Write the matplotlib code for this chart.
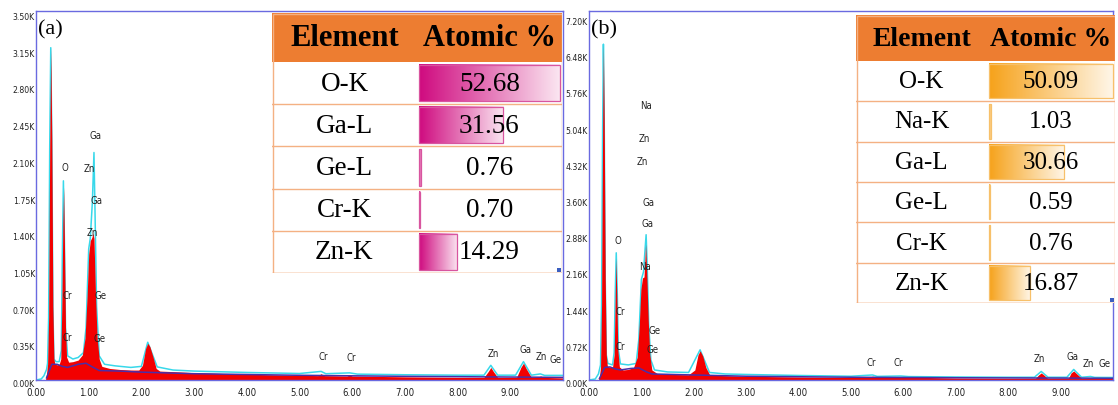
import matplotlib
matplotlib.use('Agg')
import matplotlib.pyplot as plt
import numpy as np
from matplotlib.colors import LinearSegmentedColormap
from matplotlib.patches import Rectangle
import matplotlib.transforms as mtrans
from matplotlib import font_manager

# ---------------- DATA ----------------
# Panel (a) spectrum (energy keV, counts)
a_red_E = [0.18, 0.20, 0.22, 0.24, 0.26, 0.28, 0.30, 0.32, 0.34, 0.36, 0.40, 0.44, 0.47, 0.49, 0.51, 0.525,
           0.54, 0.56, 0.58, 0.62, 0.70, 0.80, 0.88, 0.93, 0.97, 1.00, 1.03, 1.06, 1.08, 1.10, 1.13, 1.16,
           1.20, 1.25, 1.40, 1.60, 1.80, 1.95, 2.02, 2.08, 2.12, 2.16, 2.22, 2.28, 2.35, 2.60, 3.00, 4.00,
           5.00, 5.35, 5.41, 5.47, 5.90, 5.95, 6.00, 7.00, 8.00, 8.50, 8.58, 8.63, 8.68, 8.76, 9.12, 9.20,
           9.25, 9.30, 9.40, 9.55, 9.57, 9.62, 10.0]
a_red_C = [0, 60, 150, 600, 2200, 3170, 2300, 700, 200, 150, 145, 150, 200, 700, 1500, 1840,
           1300, 500, 220, 170, 175, 190, 240, 400, 800, 1200, 1330, 1360, 1400, 1350, 800, 400,
           200, 130, 110, 100, 95, 95, 140, 300, 350, 320, 220, 110, 85, 80, 70, 55,
           45, 42, 60, 42, 38, 48, 38, 30, 25, 25, 80, 120, 80, 25, 25, 120,
           160, 110, 25, 25, 40, 25, 20]
a_cyan_E = [0.00, 0.10, 0.15, 0.20, 0.22, 0.24, 0.26, 0.28, 0.30, 0.32, 0.34, 0.38, 0.44, 0.48, 0.50, 0.52,
            0.54, 0.56, 0.60, 0.70, 0.80, 0.90, 0.95, 1.00, 1.03, 1.07, 1.10, 1.12, 1.15, 1.20, 1.30, 1.50,
            1.80, 2.00, 2.12, 2.30, 2.60, 3.00, 4.00, 5.00, 5.41, 5.50, 5.95, 6.10, 7.00, 8.00, 8.50, 8.63,
            8.76, 9.10, 9.25, 9.40, 9.57, 9.65, 9.80, 10.0]
a_cyan_C = [0, 10, 40, 100, 160, 600, 2200, 3170, 2300, 700, 200, 175, 175, 280, 1200, 1900,
            1300, 500, 230, 200, 215, 260, 500, 1250, 1350, 1700, 2170, 1600, 700, 230, 150, 135,
            120, 130, 360, 125, 95, 85, 72, 62, 82, 60, 68, 56, 50, 46, 46, 140,
            46, 46, 175, 46, 58, 44, 44, 44]
a_bg_E = [0.20, 0.30, 0.40, 0.50, 0.60, 0.80, 0.95, 1.05, 1.20, 1.60, 2.00, 3.00, 5.00, 7.00, 10.0]
a_bg_C = [20, 150, 150, 130, 120, 150, 160, 130, 90, 85, 75, 60, 45, 35, 25]

# Panel (b) spectrum
b_red_E = [0.18, 0.20, 0.22, 0.24, 0.26, 0.275, 0.29, 0.31, 0.33, 0.35, 0.40, 0.45, 0.48, 0.50, 0.515, 0.53,
           0.55, 0.58, 0.65, 0.75, 0.85, 0.92, 0.96, 0.99, 1.02, 1.05, 1.08, 1.10, 1.13, 1.16, 1.20, 1.30,
           1.60, 1.90, 2.02, 2.08, 2.12, 2.17, 2.23, 2.30, 2.50, 3.00, 4.00, 5.00, 5.38, 5.41, 5.45, 5.95,
           7.00, 8.00, 8.52, 8.58, 8.63, 8.68, 8.75, 9.15, 9.20, 9.25, 9.30, 9.40, 9.57, 10.0]
b_red_C = [0, 80, 250, 1500, 5000, 6680, 5200, 2000, 500, 280, 250, 260, 500, 1600, 2430, 1700,
           600, 260, 200, 210, 250, 450, 1100, 1800, 2030, 2050, 2700, 2200, 1200, 500, 200, 130,
           110, 105, 200, 500, 580, 480, 250, 110, 90, 75, 60, 50, 50, 80, 50, 60,
           40, 35, 35, 100, 140, 100, 35, 35, 140, 180, 130, 35, 45, 30]
b_cyan_E = [0.00, 0.12, 0.18, 0.22, 0.24, 0.26, 0.275, 0.29, 0.31, 0.33, 0.36, 0.45, 0.48, 0.50, 0.52, 0.54,
            0.56, 0.60, 0.75, 0.90, 0.95, 1.00, 1.04, 1.07, 1.09, 1.11, 1.14, 1.18, 1.25, 1.50, 1.90, 2.12,
            2.30, 2.60, 3.00, 4.00, 5.00, 5.41, 5.50, 5.95, 6.10, 7.00, 8.00, 8.50, 8.63, 8.76, 9.12, 9.25,
            9.40, 9.57, 9.65, 10.0]
b_cyan_C = [0, 20, 120, 300, 1500, 5000, 6680, 5200, 2000, 500, 330, 300, 550, 1700, 2530, 1700,
            600, 320, 300, 330, 800, 2000, 2150, 2600, 2890, 2300, 1100, 400, 200, 160, 150, 600,
            150, 120, 110, 90, 75, 100, 72, 80, 68, 60, 55, 55, 170, 55, 55, 210,
            55, 70, 52, 50]
b_bg_E = [0.20, 0.30, 0.40, 0.50, 0.60, 0.80, 0.95, 1.10, 1.20, 1.60, 2.00, 3.00, 5.00, 7.00, 10.0]
b_bg_C = [30, 250, 260, 220, 200, 230, 240, 160, 120, 110, 100, 75, 55, 45, 35]

# Peak labels (text, energy, counts)
a_lab_txt = ['Ga', 'O', 'Zn', 'Ga', 'Zn', 'Cr', 'Ge', 'Cr', 'Ge', 'Cr', 'Cr', 'Zn', 'Ga', 'Zn', 'Ge']
a_lab_E = [1.12, 0.55, 1.02, 1.15, 1.06, 0.60, 1.23, 0.60, 1.21, 5.45, 5.98, 8.67, 9.28, 9.58, 9.85]
a_lab_C = [2325, 2020, 2010, 1706, 1400, 800, 800, 400, 390, 220, 210, 250, 286, 220, 190]
b_lab_txt = ['Na', 'Zn', 'Zn', 'Ga', 'Ga', 'O', 'Na', 'Cr', 'Ge', 'Cr', 'Ge', 'Cr', 'Cr', 'Zn', 'Ga', 'Zn', 'Ge']
b_lab_E = [1.08, 1.06, 1.02, 1.13, 1.11, 0.55, 1.06, 0.60, 1.25, 0.60, 1.21, 5.38, 5.90, 8.60, 9.23, 9.53, 9.83]
b_lab_C = [5444, 4786, 4327, 3529, 3110, 2772, 2253, 1356, 977, 658, 598, 339, 339, 419, 459, 319, 319]

# Axis ticks
x_ticks = [0, 1, 2, 3, 4, 5, 6, 7, 8, 9]
x_tick_labels = ['0.00', '1.00', '2.00', '3.00', '4.00', '5.00', '6.00', '7.00', '8.00', '9.00']
a_y_ticks = [0, 350, 700, 1050, 1400, 1750, 2100, 2450, 2800, 3150, 3500]
a_y_tick_labels = ['0.00K', '0.35K', '0.70K', '1.05K', '1.40K', '1.75K', '2.10K', '2.45K', '2.80K', '3.15K', '3.50K']
b_y_ticks = [0, 720, 1440, 2160, 2880, 3600, 4320, 5040, 5760, 6480, 7200]
b_y_tick_labels = ['0.00K', '0.72K', '1.44K', '2.16K', '2.88K', '3.60K', '4.32K', '5.04K', '5.76K', '6.48K', '7.20K']

# Tables
a_elements = ['O-K', 'Ga-L', 'Ge-L', 'Cr-K', 'Zn-K']
a_atomic = [52.68, 31.56, 0.76, 0.70, 14.29]
a_atomic_txt = ['52.68', '31.56', '0.76', '0.70', '14.29']
b_elements = ['O-K', 'Na-K', 'Ga-L', 'Ge-L', 'Cr-K', 'Zn-K']
b_atomic = [50.09, 1.03, 30.66, 0.59, 0.76, 16.87]
b_atomic_txt = ['50.09', '1.03', '30.66', '0.59', '0.76', '16.87']
table_header = ['Element', 'Atomic %']

# ---------------- FIGURE ----------------
W, H = 1118, 405
fig = plt.figure(figsize=(W / 100, H / 100), dpi=100)
fig.patch.set_facecolor('white')

def px_rect(x0, y0, x1, y1):
    return [x0 / W, 1 - y1 / H, (x1 - x0) / W, (y1 - y0) / H]

_fl = font_manager.fontManager.ttflist
_names = {f.name for f in _fl}
if 'Liberation Sans Narrow' in _names:
    SMALL = dict(fontfamily=['Liberation Sans Narrow', 'DejaVu Sans'])
    TK = 1.0
elif any(f.name == 'DejaVu Sans' and 'condensed' in str(f.stretch) for f in _fl):
    SMALL = dict(fontfamily=['DejaVu Sans'], fontstretch='condensed')
    TK = 0.92
else:
    SMALL = dict(fontfamily=['DejaVu Sans'])
    TK = 0.88
SERIF = ['Liberation Serif', 'DejaVu Serif']
FRAME = '#6a6ae0'

def spectrum(ax, rE, rC, cE, cC, gE, gC, ymax, yt, ytl, ltxt, lE, lC, tag):
    ax.plot(cE, cC, color='#38d8ea', lw=1.1, zorder=1)
    ax.fill_between(rE, 0, rC, color='#f20000', lw=0, zorder=2)
    ax.plot(gE, gC, color='#4a2ea8', lw=1.1, zorder=3)
    ax.set_xlim(0, 10)
    ax.set_ylim(0, ymax)
    ax.set_xticks(x_ticks)
    ax.set_xticklabels(x_tick_labels, fontsize=7.5 * TK, **SMALL)
    ax.set_yticks(yt)
    ax.set_yticklabels(ytl, fontsize=6.8 * TK, **SMALL)
    ax.tick_params(axis='both', length=0, colors='#222222')
    ax.tick_params(axis='y', pad=0.8)
    ax.tick_params(axis='x', pad=6)
    off = mtrans.ScaledTranslation(0, -3.5 / 100, fig.dpi_scale_trans)
    for lab in ax.get_yticklabels():
        lab.set_transform(lab.get_transform() + off)
    for s in ax.spines.values():
        s.set_color(FRAME)
        s.set_linewidth(1.0)
    for t, e, c in zip(ltxt, lE, lC):
        ax.text(e, c, t, ha='center', va='center', fontsize=7.5 * TK,
                color='#222222', zorder=5, **SMALL)
    ax.text(0.004, 0.975, tag, transform=ax.transAxes, ha='left', va='top',
            fontsize=16, fontfamily=SERIF, color='black', zorder=6)


def draw_table(box, split, head_h, elements, vals, vtxt, strong, light, edge,
               hsize, bsize, z):
    x0, y0, x1, y1 = box
    tw, th = x1 - x0, y1 - y0
    ax = fig.add_axes(px_rect(x0, y0, x1, y1))
    ax.set_zorder(z)
    ax.axis('off')
    ax.add_patch(Rectangle((0, 0), tw, th, facecolor='white', edgecolor='none', zorder=0))
    ax.add_patch(Rectangle((0, 0), tw, head_h, facecolor='#ed7d31', edgecolor='none', zorder=1))
    ax.text(split / 2, head_h / 2 + 1, table_header[0], ha='center', va='center',
            fontsize=hsize, fontweight='bold', fontfamily=SERIF, color='black', zorder=5)
    ax.text((split + tw) / 2, head_h / 2 + 1, table_header[1], ha='center', va='center',
            fontsize=hsize, fontweight='bold', fontfamily=SERIF, color='black', zorder=5)
    n = len(elements)
    rh = (th - head_h) / n
    cmap = LinearSegmentedColormap.from_list('g', [strong, light])
    grad = np.linspace(0, 1, 256).reshape(1, -1)
    vmax = max(vals)
    bar_full = tw - split - 4
    for i, (el, v, vt) in enumerate(zip(elements, vals, vtxt)):
        top = head_h + i * rh
        ax.plot([0, tw], [top + rh, top + rh], color='#f4b183', lw=1.0, zorder=2)
        bw = max(v / vmax * bar_full, 1.5)
        bx = split + 1.5
        ax.imshow(grad, cmap=cmap, extent=(bx, bx + bw, top + rh - 3, top + 3),
                  aspect='auto', interpolation='bilinear', zorder=3)
        ax.add_patch(Rectangle((bx, top + 3), bw, rh - 6, facecolor='none',
                               edgecolor=edge, lw=0.9, zorder=4))
        ax.text(split / 2, top + rh / 2 + 1, el, ha='center', va='center',
                fontsize=bsize, fontfamily=SERIF, color='black', zorder=5)
        ax.text((split + tw) / 2, top + rh / 2 + 1, vt, ha='center', va='center',
                fontsize=bsize, fontfamily=SERIF, color='black', zorder=5)
    ax.add_patch(Rectangle((0.5, 0.5), tw - 1, th - 1, facecolor='none',
                           edgecolor='#f4b183', lw=1.0, zorder=6))
    ax.add_patch(Rectangle((tw - 5, th - 5), 4, 4, facecolor='#3b5fc0',
                           edgecolor='none', zorder=7))
    ax.set_xlim(0, tw)
    ax.set_ylim(th, 0)

axA = fig.add_axes(px_rect(36, 11, 563, 380))
axA.set_zorder(1)
spectrum(axA, a_red_E, a_red_C, a_cyan_E, a_cyan_C, a_bg_E, a_bg_C, 3520,
         a_y_ticks, a_y_tick_labels, a_lab_txt, a_lab_E, a_lab_C, '(a)')

draw_table((272, 13, 562, 273), 145, 49, a_elements, a_atomic, a_atomic_txt,
           '#cf0a7f', '#fbe6f1', '#d8559f', 22, 19.5, 2)

axB = fig.add_axes(px_rect(589, 11, 1113, 380))
axB.set_zorder(3)
axB.patch.set_alpha(0.0)
spectrum(axB, b_red_E, b_red_C, b_cyan_E, b_cyan_C, b_bg_E, b_bg_C, 7340,
         b_y_ticks, b_y_tick_labels, b_lab_txt, b_lab_E, b_lab_C, '(b)')

draw_table((856, 15, 1115, 303), 131, 46, b_elements, b_atomic, b_atomic_txt,
           '#f6a21a', '#fff6e8', '#f7c06a', 20, 18, 4)

fig.savefig('out.png', dpi=100)
